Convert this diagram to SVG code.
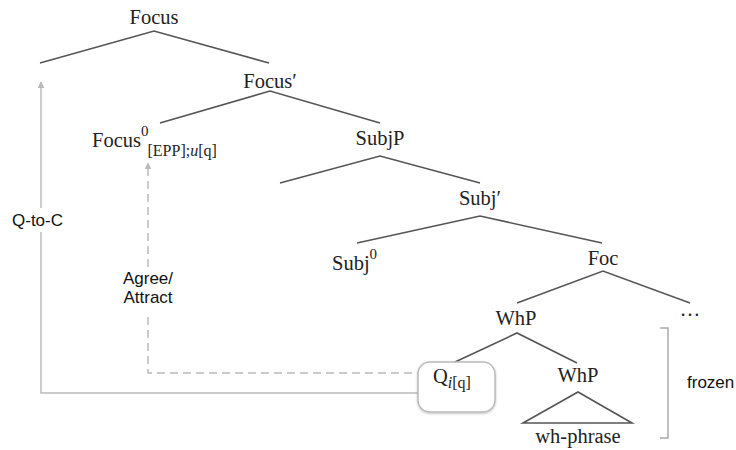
<svg xmlns="http://www.w3.org/2000/svg" width="736" height="450" viewBox="0 0 736 450">
<defs>
<style>
.t{font-family:"Liberation Serif","DejaVu Serif",serif;font-size:20.5px;fill:#222;text-anchor:middle}
.ts{font-family:"Liberation Serif","DejaVu Serif",serif;font-size:20.5px;fill:#222;text-anchor:start}
.s{font-family:"Liberation Sans",Arial,sans-serif;font-size:17px;fill:#111}
.e{stroke:#555;stroke-width:1.6;fill:none}
.a{stroke:#bbb;stroke-width:1.5;fill:none}
.d{stroke:#bbb;stroke-width:1.5;fill:none;stroke-dasharray:8 5}
</style>
<marker id="ah" viewBox="0 0 10 10" refX="9" refY="5" markerWidth="7" markerHeight="7" orient="auto" markerUnits="userSpaceOnUse">
<path d="M0,0 L10,5 L0,10 z" fill="#bbb"/>
</marker>
<filter id="sh" x="-20%" y="-20%" width="140%" height="150%">
<feDropShadow dx="0" dy="1" stdDeviation="1.2" flood-color="#000" flood-opacity="0.25"/>
</filter>
</defs>
<rect width="736" height="450" fill="#fff"/>
<g id="edges">
<path class="e" d="M40,63 L154,31 L269,63"/>
<path class="e" d="M160,123 L270,91 L380,123"/>
<path class="e" d="M280,183 L380,156 L480,183"/>
<path class="e" d="M357,243 L480,216 L602,243"/>
<path class="e" d="M517,303 L603,271 L690,303"/>
<path class="e" d="M455,362 L517,333 L577,363"/>
<path class="e" d="M523,423 L578,392 L632,423 Z"/>
<path d="M660,328 L668,328 L668,438 L660,438" stroke="#aaa" stroke-width="1.5" fill="none"/>
</g>
<g id="connectors">
<path class="a" d="M418,393 L41,393 L41,232"/>
<path class="a" d="M41,208 L41,82" marker-end="url(#ah)"/>
<path class="d" d="M148,317 L148,373 L432,373" marker-end="url(#ah)"/>
<path class="d" d="M148,267 L148,163" marker-end="url(#ah)"/>
</g>
<g id="n-focus"><text class="t" x="154" y="24">Focus</text></g>
<g id="n-focusbar"><text class="t" x="270" y="88">Focus′</text></g>
<g id="n-focus0"><text class="ts" x="92" y="147">Focus<tspan font-size="15" dy="-11">0</tspan><tspan font-size="16" dx="-1" dy="20">[EPP];<tspan font-style="italic">u</tspan>[q]</tspan></text></g>
<g id="n-subjp"><text class="t" x="380" y="145">SubjP</text></g>
<g id="n-subjbar"><text class="t" x="480" y="205">Subj′</text></g>
<g id="n-subj0"><text class="ts" x="332" y="270">Subj<tspan font-size="15" dy="-11">0</tspan></text></g>
<g id="n-foc"><text class="t" x="603" y="265">Foc</text></g>
<g id="n-dots"><text class="t" x="690" y="316">…</text></g>
<g id="n-whp1"><text class="t" x="516" y="325">WhP</text></g>
<g id="n-q">
<rect x="418" y="362" width="77" height="50" rx="12" ry="12" fill="#fff" stroke="#bbb" stroke-width="1.5" filter="url(#sh)"/>
<text class="ts" x="433" y="383">Q<tspan font-size="16" dy="5"><tspan font-style="italic">i</tspan>[q]</tspan></text>
</g>
<g id="n-whp2"><text class="t" x="578" y="382">WhP</text></g>
<g id="n-whphrase"><text class="t" x="578" y="443">wh-phrase</text></g>
<g id="labels">
<text class="s" x="12" y="226">Q-to-C</text>
<text class="s" x="148" y="284" text-anchor="middle">Agree/</text>
<text class="s" x="148" y="303" text-anchor="middle">Attract</text>
<text class="s" x="687" y="388">frozen</text>
</g>
</svg>
